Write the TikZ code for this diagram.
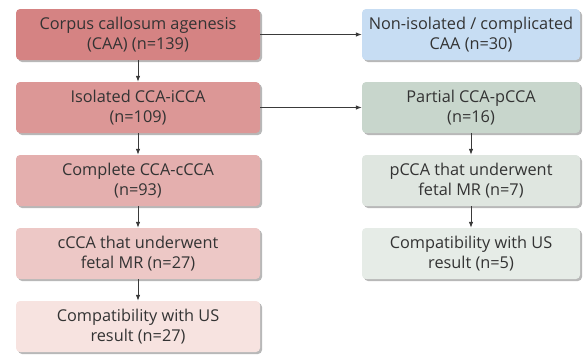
\documentclass[tikz,border=0pt]{standalone}
\usepackage{fontspec}
\setmainfont{Open Sans}
\usetikzlibrary{arrows.meta,shadows}
\definecolor{txt}{HTML}{333333}
\definecolor{cA}{HTML}{D58383}
\definecolor{cB}{HTML}{DC9796}
\definecolor{cC}{HTML}{E4AFAE}
\definecolor{cD}{HTML}{EDC8C6}
\definecolor{cE}{HTML}{F7E3E0}
\definecolor{rA}{HTML}{C7DDF3}
\definecolor{rB}{HTML}{C8D6CC}
\definecolor{rC}{HTML}{DFE6E0}
\definecolor{rD}{HTML}{E6ECE7}
\definecolor{shd}{HTML}{B8B8B8}
\definecolor{arr}{HTML}{3A3A3A}
\tikzset{
  box/.style={rounded corners=4pt, minimum height=51pt, align=center,
    text=txt, font=\fontsize{16.3}{19.5}\selectfont, inner sep=2pt,
    drop shadow={shadow xshift=2pt, shadow yshift=-2pt, fill=shd, opacity=1}},
  lbox/.style={box, minimum width=244pt},
  rbox/.style={box, minimum width=218pt},
  conn/.style={draw=arr, line width=0.8pt, -{Latex[length=6pt,width=4.5pt]}}
}
\begin{document}
\begin{tikzpicture}[x=1pt,y=1pt]
\useasboundingbox (0,0) rectangle (583,-354);
\node[lbox, fill=cA] (a) at (138,-34.5) {Corpus callosum agenesis\\(CAA) (n=139)};
\node[lbox, fill=cB] (b) at (138,-107.5) {Isolated CCA-iCCA\\(n=109)};
\node[lbox, fill=cC] (c) at (138,-180.5) {Complete CCA-cCCA\\(n=93)};
\node[lbox, fill=cD] (d) at (138,-253.5) {cCCA that underwent\\fetal MR (n=27)};
\node[lbox, fill=cE] (e) at (138,-326.5) {Compatibility with US\\result (n=27)};
\node[rbox, fill=rA] (ra) at (471,-34.5) {Non-isolated / complicated\\CAA (n=30)};
\node[rbox, fill=rB] (rb) at (471,-107.5) {Partial CCA-pCCA\\(n=16)};
\node[rbox, fill=rC] (rc) at (471,-180.5) {pCCA that underwent\\fetal MR (n=7)};
\node[rbox, fill=rD] (rd) at (471,-253.5) {Compatibility with US\\result (n=5)};
\draw[conn] (a) -- (b);
\draw[conn] (b) -- (c);
\draw[conn] (c) -- (d);
\draw[conn] (d) -- (e);
\draw[conn] (a) -- (ra);
\draw[conn] (b) -- (rb);
\draw[conn] (rb) -- (rc);
\draw[conn] (rc) -- (rd);
\end{tikzpicture}
\end{document}
